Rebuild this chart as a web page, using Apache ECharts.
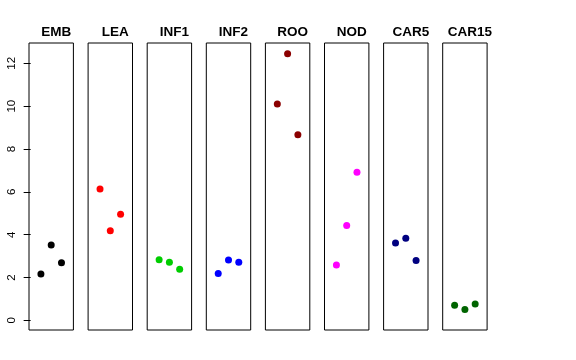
<!DOCTYPE html>
<html>
<head>
<meta charset="utf-8">
<script src="https://cdn.jsdelivr.net/npm/echarts@6/dist/echarts.min.js"></script>
<style>html,body{margin:0;padding:0;background:#fff}#c{width:576px;height:360px}</style>
</head>
<body>
<div id="c"></div>
<script>
const categories = ['EMB','LEA','INF1','INF2','ROO','NOD','CAR5','CAR15'];
const colors = ['#000000','#FF0000','#00CD00','#0000FF','#8B0000','#FF00FF','#000080','#006400'];
const EMB = [2.16, 3.52, 2.69];
const LEA = [6.13, 4.18, 4.96];
const INF1 = [2.83, 2.71, 2.39];
const INF2 = [2.19, 2.82, 2.71];
const ROO = [10.10, 12.45, 8.67];
const NOD = [2.58, 4.43, 6.92];
const CAR5 = [3.61, 3.83, 2.80];
const CAR15 = [0.70, 0.51, 0.76];
const seriesValues = [EMB, LEA, INF1, INF2, ROO, NOD, CAR5, CAR15];
const yTicks = [0, 2, 4, 6, 8, 10, 12];

(function () {
  const chart = echarts.init(document.getElementById('c'), null, {renderer: 'canvas'});
  const step = 59.1, left0 = 29, pw = 44.4, gTop = 43, ph = 287;
  const grids = [], xAxes = [], yAxes = [], series = [], titles = [];
  categories.forEach((cat, i) => {
    const l = left0 + i * step;
    grids.push({left: l, top: gTop, width: pw, height: ph, show: true, borderColor: '#000', borderWidth: 1, backgroundColor: 'transparent', containLabel: false});
    xAxes.push({type: 'value', gridIndex: i, min: -0.16, max: 4.16, show: false});
    yAxes.push({
      type: 'value', gridIndex: i, min: -0.45, max: 12.95, show: i === 0,
      axisLine: {show: false}, splitLine: {show: false},
      axisTick: {show: true, length: 7, lineStyle: {color: '#000'}, customValues: yTicks},
      axisLabel: {show: true, rotate: 90, margin: 11, fontSize: 11.5, color: '#000', fontFamily: 'Liberation Sans, Arial, sans-serif', customValues: yTicks}
    });
    series.push({
      type: 'scatter', xAxisIndex: i, yAxisIndex: i, symbolSize: 7,
      itemStyle: {color: colors[i], opacity: 1},
      data: seriesValues[i].map((v, k) => [k + 1, v])
    });
    titles.push({
      text: cat, left: l + pw / 2, top: 20, textAlign: 'center',
      textStyle: {fontSize: 13.5, fontWeight: 'bold', color: '#000', fontFamily: 'Liberation Sans, Arial, sans-serif'}
    });
  });
  chart.setOption({
    animation: false,
    title: titles,
    grid: grids, xAxis: xAxes, yAxis: yAxes, series: series
  });
})();
</script>
</body>
</html>
